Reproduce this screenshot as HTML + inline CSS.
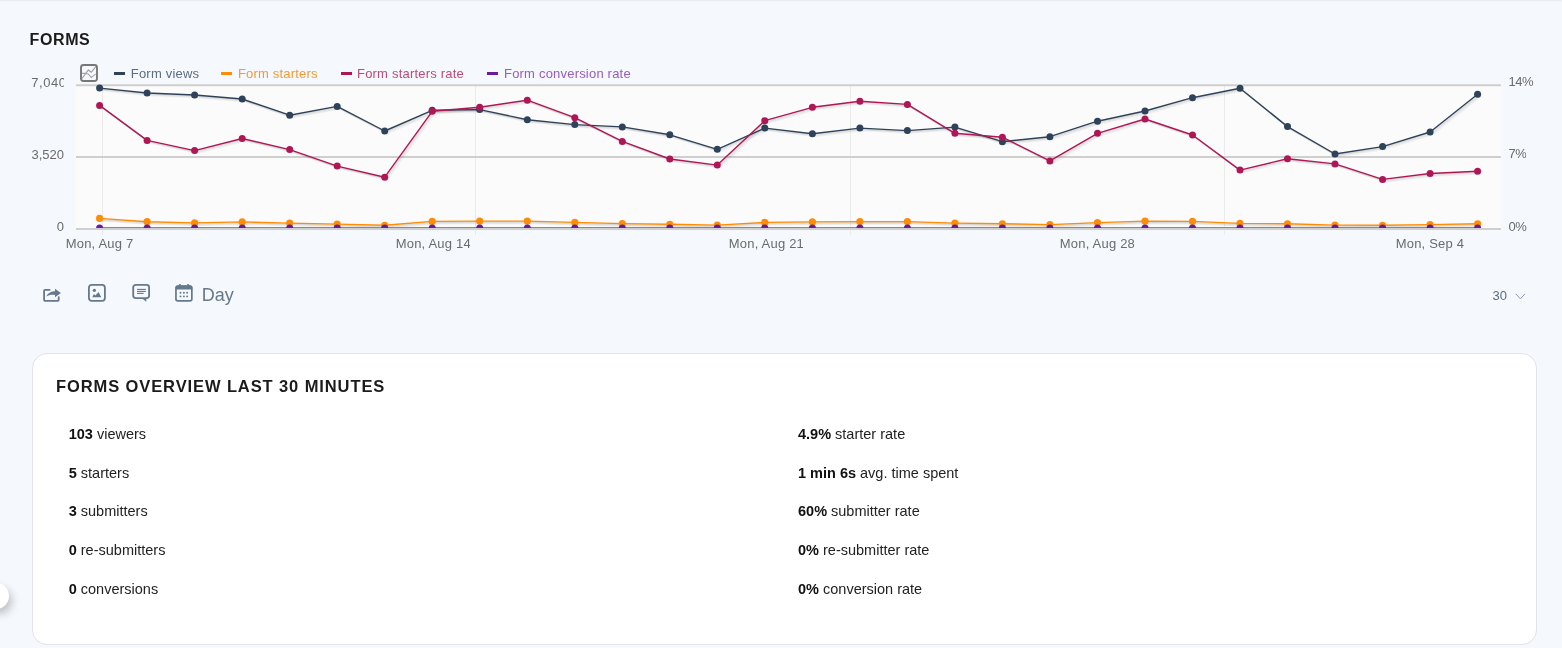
<!DOCTYPE html>
<html><head><meta charset="utf-8"><title>Forms</title>
<style>
*{box-sizing:border-box;margin:0;padding:0}
html,body{width:1562px;height:648px;overflow:hidden}
body{background:#f5f8fc;font-family:"Liberation Sans",Arial,sans-serif;position:relative;color:#212121}
.topshade{position:absolute;left:0;top:0;width:1562px;height:2px;background:linear-gradient(#e6e9ee,#f5f8fc)}
.t{position:absolute;white-space:nowrap;line-height:1}
.h1{left:29.6px;top:31.5px;font-size:16px;font-weight:bold;color:#1b1b1b;letter-spacing:0.6px}
.chart{position:absolute;left:0;top:0}
.lg{font-size:13px;top:67.2px;letter-spacing:0.2px}
.dash{position:absolute;width:11px;height:3px;top:71.7px}
.ax{font-size:13px;color:#6b6b6b}
.rl{left:1508.6px;overflow:hidden;letter-spacing:-0.5px;line-height:14px}
.yl{position:absolute;left:0;width:64px;overflow:hidden;text-align:right;white-space:nowrap;line-height:1;font-size:13px;color:#6b6b6b}
.xl{position:absolute;top:236.2px;overflow:hidden;white-space:nowrap;line-height:16px;font-size:13px;color:#6b6b6b;letter-spacing:0.2px}
.ico{position:absolute}
.day{left:201.8px;top:285.5px;font-size:18px;color:#66778a}
.lim{left:1492.5px;top:289px;font-size:13px;color:#5b6b7c}
.card{position:absolute;left:32px;top:353px;width:1505px;height:292px;background:#fff;border:1px solid #e1e2ea;border-radius:15px}
.h2{left:56px;top:377.8px;font-size:16.5px;font-weight:bold;color:#1b1b1b;letter-spacing:0.9px}
.st{position:absolute;font-size:14.5px;line-height:1;white-space:nowrap;color:#222}
.st b{color:#111}
.knob{position:absolute;left:-17px;top:583px;width:26px;height:26px;border-radius:50%;background:#fff;box-shadow:3px 5px 9px rgba(0,0,0,0.22)}
</style></head><body>
<div class="topshade"></div>
<div class="t h1">FORMS</div>
<svg class="chart" width="1562" height="260" viewBox="0 0 1562 260">
<defs><clipPath id="pc"><rect x="76" y="60" width="1425" height="167.9"/></clipPath></defs>
<rect x="76" y="85" width="1425" height="144" fill="#fbfbfb"/>
<g stroke="#ebebeb" stroke-width="1">
<line x1="102.5" y1="85" x2="102.5" y2="235"/><line x1="475.5" y1="85" x2="475.5" y2="235"/><line x1="850.5" y1="85" x2="850.5" y2="235"/><line x1="1224.5" y1="85" x2="1224.5" y2="235"/>
</g>
<g stroke="#cfcfcf" stroke-width="2">
<line x1="76" y1="85.3" x2="1501" y2="85.3"/><line x1="76" y1="157" x2="1501" y2="157"/><line x1="76" y1="229.1" x2="1501" y2="229.1"/>
</g>
<g clip-path="url(#pc)">
<polyline points="99.6,89.0 147.1,93.9 194.6,95.9 242.2,99.9 289.7,116.1 337.2,107.3 384.7,131.9 432.2,111.2 479.7,110.5 527.3,120.6 574.8,125.5 622.3,127.8 669.8,135.7 717.3,150.2 764.8,129.0 812.4,134.7 859.9,129.0 907.4,131.5 954.9,128.0 1002.4,142.6 1049.9,137.6 1097.5,122.1 1145.0,111.9 1192.5,98.6 1240.0,89.2 1287.5,127.5 1335.0,154.9 1382.6,147.5 1430.1,132.9 1477.6,95.2" transform="translate(0.9,0)" fill="none" stroke="#000" stroke-opacity="0.1" stroke-width="1.4"/><polyline points="99.6,89.9 147.1,94.8 194.6,96.8 242.2,100.8 289.7,117.0 337.2,108.2 384.7,132.8 432.2,112.1 479.7,111.4 527.3,121.5 574.8,126.4 622.3,128.7 669.8,136.6 717.3,151.1 764.8,129.9 812.4,135.6 859.9,129.9 907.4,132.4 954.9,128.9 1002.4,143.5 1049.9,138.5 1097.5,123.0 1145.0,112.8 1192.5,99.5 1240.0,90.1 1287.5,128.4 1335.0,155.8 1382.6,148.4 1430.1,133.8 1477.6,96.1" transform="translate(1.8,0)" fill="none" stroke="#000" stroke-opacity="0.07" stroke-width="1.4"/><polyline points="99.6,90.8 147.1,95.7 194.6,97.7 242.2,101.7 289.7,117.9 337.2,109.1 384.7,133.7 432.2,113.0 479.7,112.3 527.3,122.4 574.8,127.3 622.3,129.6 669.8,137.5 717.3,152.0 764.8,130.8 812.4,136.5 859.9,130.8 907.4,133.3 954.9,129.8 1002.4,144.4 1049.9,139.4 1097.5,123.9 1145.0,113.7 1192.5,100.4 1240.0,91.0 1287.5,129.3 1335.0,156.7 1382.6,149.3 1430.1,134.7 1477.6,97.0" transform="translate(2.7,0)" fill="none" stroke="#000" stroke-opacity="0.04" stroke-width="1.4"/><polyline points="99.6,88.1 147.1,93.0 194.6,95.0 242.2,99.0 289.7,115.2 337.2,106.4 384.7,131.0 432.2,110.3 479.7,109.6 527.3,119.7 574.8,124.6 622.3,126.9 669.8,134.8 717.3,149.3 764.8,128.1 812.4,133.8 859.9,128.1 907.4,130.6 954.9,127.1 1002.4,141.7 1049.9,136.7 1097.5,121.2 1145.0,111.0 1192.5,97.7 1240.0,88.3 1287.5,126.6 1335.0,154.0 1382.6,146.6 1430.1,132.0 1477.6,94.3" fill="none" stroke="#2e4259" stroke-width="1.4" stroke-linejoin="round"/><circle cx="99.6" cy="88.1" r="3.5" fill="#2e4259"/><circle cx="147.1" cy="93.0" r="3.5" fill="#2e4259"/><circle cx="194.6" cy="95.0" r="3.5" fill="#2e4259"/><circle cx="242.2" cy="99.0" r="3.5" fill="#2e4259"/><circle cx="289.7" cy="115.2" r="3.5" fill="#2e4259"/><circle cx="337.2" cy="106.4" r="3.5" fill="#2e4259"/><circle cx="384.7" cy="131.0" r="3.5" fill="#2e4259"/><circle cx="432.2" cy="110.3" r="3.5" fill="#2e4259"/><circle cx="479.7" cy="109.6" r="3.5" fill="#2e4259"/><circle cx="527.3" cy="119.7" r="3.5" fill="#2e4259"/><circle cx="574.8" cy="124.6" r="3.5" fill="#2e4259"/><circle cx="622.3" cy="126.9" r="3.5" fill="#2e4259"/><circle cx="669.8" cy="134.8" r="3.5" fill="#2e4259"/><circle cx="717.3" cy="149.3" r="3.5" fill="#2e4259"/><circle cx="764.8" cy="128.1" r="3.5" fill="#2e4259"/><circle cx="812.4" cy="133.8" r="3.5" fill="#2e4259"/><circle cx="859.9" cy="128.1" r="3.5" fill="#2e4259"/><circle cx="907.4" cy="130.6" r="3.5" fill="#2e4259"/><circle cx="954.9" cy="127.1" r="3.5" fill="#2e4259"/><circle cx="1002.4" cy="141.7" r="3.5" fill="#2e4259"/><circle cx="1049.9" cy="136.7" r="3.5" fill="#2e4259"/><circle cx="1097.5" cy="121.2" r="3.5" fill="#2e4259"/><circle cx="1145.0" cy="111.0" r="3.5" fill="#2e4259"/><circle cx="1192.5" cy="97.7" r="3.5" fill="#2e4259"/><circle cx="1240.0" cy="88.3" r="3.5" fill="#2e4259"/><circle cx="1287.5" cy="126.6" r="3.5" fill="#2e4259"/><circle cx="1335.0" cy="154.0" r="3.5" fill="#2e4259"/><circle cx="1382.6" cy="146.6" r="3.5" fill="#2e4259"/><circle cx="1430.1" cy="132.0" r="3.5" fill="#2e4259"/><circle cx="1477.6" cy="94.3" r="3.5" fill="#2e4259"/>
<polyline points="99.6,219.3 147.1,222.6 194.6,223.8 242.2,222.8 289.7,224.0 337.2,225.0 384.7,226.2 432.2,222.3 479.7,222.0 527.3,222.0 574.8,223.3 622.3,224.5 669.8,225.2 717.3,226.0 764.8,223.3 812.4,222.8 859.9,222.5 907.4,222.5 954.9,224.0 1002.4,224.7 1049.9,225.5 1097.5,223.5 1145.0,222.0 1192.5,222.3 1240.0,224.3 1287.5,224.7 1335.0,226.0 1382.6,226.2 1430.1,225.5 1477.6,224.7" transform="translate(0.9,0)" fill="none" stroke="#000" stroke-opacity="0.1" stroke-width="1.4"/><polyline points="99.6,220.2 147.1,223.5 194.6,224.7 242.2,223.7 289.7,224.9 337.2,225.9 384.7,227.1 432.2,223.2 479.7,222.9 527.3,222.9 574.8,224.2 622.3,225.4 669.8,226.1 717.3,226.9 764.8,224.2 812.4,223.7 859.9,223.4 907.4,223.4 954.9,224.9 1002.4,225.6 1049.9,226.4 1097.5,224.4 1145.0,222.9 1192.5,223.2 1240.0,225.2 1287.5,225.6 1335.0,226.9 1382.6,227.1 1430.1,226.4 1477.6,225.6" transform="translate(1.8,0)" fill="none" stroke="#000" stroke-opacity="0.07" stroke-width="1.4"/><polyline points="99.6,221.1 147.1,224.4 194.6,225.6 242.2,224.6 289.7,225.8 337.2,226.8 384.7,228.0 432.2,224.1 479.7,223.8 527.3,223.8 574.8,225.1 622.3,226.3 669.8,227.0 717.3,227.8 764.8,225.1 812.4,224.6 859.9,224.3 907.4,224.3 954.9,225.8 1002.4,226.5 1049.9,227.3 1097.5,225.3 1145.0,223.8 1192.5,224.1 1240.0,226.1 1287.5,226.5 1335.0,227.8 1382.6,228.0 1430.1,227.3 1477.6,226.5" transform="translate(2.7,0)" fill="none" stroke="#000" stroke-opacity="0.04" stroke-width="1.4"/><polyline points="99.6,218.4 147.1,221.7 194.6,222.9 242.2,221.9 289.7,223.1 337.2,224.1 384.7,225.3 432.2,221.4 479.7,221.1 527.3,221.1 574.8,222.4 622.3,223.6 669.8,224.3 717.3,225.1 764.8,222.4 812.4,221.9 859.9,221.6 907.4,221.6 954.9,223.1 1002.4,223.8 1049.9,224.6 1097.5,222.6 1145.0,221.1 1192.5,221.4 1240.0,223.4 1287.5,223.8 1335.0,225.1 1382.6,225.3 1430.1,224.6 1477.6,223.8" fill="none" stroke="#fd8c06" stroke-width="1.4" stroke-linejoin="round"/><circle cx="99.6" cy="218.4" r="3.6" fill="#fd8c06"/><circle cx="147.1" cy="221.7" r="3.6" fill="#fd8c06"/><circle cx="194.6" cy="222.9" r="3.6" fill="#fd8c06"/><circle cx="242.2" cy="221.9" r="3.6" fill="#fd8c06"/><circle cx="289.7" cy="223.1" r="3.6" fill="#fd8c06"/><circle cx="337.2" cy="224.1" r="3.6" fill="#fd8c06"/><circle cx="384.7" cy="225.3" r="3.6" fill="#fd8c06"/><circle cx="432.2" cy="221.4" r="3.6" fill="#fd8c06"/><circle cx="479.7" cy="221.1" r="3.6" fill="#fd8c06"/><circle cx="527.3" cy="221.1" r="3.6" fill="#fd8c06"/><circle cx="574.8" cy="222.4" r="3.6" fill="#fd8c06"/><circle cx="622.3" cy="223.6" r="3.6" fill="#fd8c06"/><circle cx="669.8" cy="224.3" r="3.6" fill="#fd8c06"/><circle cx="717.3" cy="225.1" r="3.6" fill="#fd8c06"/><circle cx="764.8" cy="222.4" r="3.6" fill="#fd8c06"/><circle cx="812.4" cy="221.9" r="3.6" fill="#fd8c06"/><circle cx="859.9" cy="221.6" r="3.6" fill="#fd8c06"/><circle cx="907.4" cy="221.6" r="3.6" fill="#fd8c06"/><circle cx="954.9" cy="223.1" r="3.6" fill="#fd8c06"/><circle cx="1002.4" cy="223.8" r="3.6" fill="#fd8c06"/><circle cx="1049.9" cy="224.6" r="3.6" fill="#fd8c06"/><circle cx="1097.5" cy="222.6" r="3.6" fill="#fd8c06"/><circle cx="1145.0" cy="221.1" r="3.6" fill="#fd8c06"/><circle cx="1192.5" cy="221.4" r="3.6" fill="#fd8c06"/><circle cx="1240.0" cy="223.4" r="3.6" fill="#fd8c06"/><circle cx="1287.5" cy="223.8" r="3.6" fill="#fd8c06"/><circle cx="1335.0" cy="225.1" r="3.6" fill="#fd8c06"/><circle cx="1382.6" cy="225.3" r="3.6" fill="#fd8c06"/><circle cx="1430.1" cy="224.6" r="3.6" fill="#fd8c06"/><circle cx="1477.6" cy="223.8" r="3.6" fill="#fd8c06"/>
<polyline points="99.6,106.3 147.1,141.3 194.6,151.5 242.2,139.4 289.7,150.5 337.2,167.0 384.7,178.1 432.2,112.2 479.7,108.2 527.3,101.1 574.8,118.6 622.3,142.3 669.8,159.9 717.3,166.0 764.8,121.6 812.4,108.2 859.9,102.1 907.4,105.3 954.9,134.2 1002.4,138.1 1049.9,161.8 1097.5,134.2 1145.0,119.9 1192.5,135.9 1240.0,171.0 1287.5,159.6 1335.0,164.8 1382.6,180.3 1430.1,174.4 1477.6,172.2" transform="translate(0.9,0)" fill="none" stroke="#000" stroke-opacity="0.1" stroke-width="1.4"/><polyline points="99.6,107.2 147.1,142.2 194.6,152.4 242.2,140.3 289.7,151.4 337.2,167.9 384.7,179.0 432.2,113.1 479.7,109.1 527.3,102.0 574.8,119.5 622.3,143.2 669.8,160.8 717.3,166.9 764.8,122.5 812.4,109.1 859.9,103.0 907.4,106.2 954.9,135.1 1002.4,139.0 1049.9,162.7 1097.5,135.1 1145.0,120.8 1192.5,136.8 1240.0,171.9 1287.5,160.5 1335.0,165.7 1382.6,181.2 1430.1,175.3 1477.6,173.1" transform="translate(1.8,0)" fill="none" stroke="#000" stroke-opacity="0.07" stroke-width="1.4"/><polyline points="99.6,108.1 147.1,143.1 194.6,153.3 242.2,141.2 289.7,152.3 337.2,168.8 384.7,179.9 432.2,114.0 479.7,110.0 527.3,102.9 574.8,120.4 622.3,144.1 669.8,161.7 717.3,167.8 764.8,123.4 812.4,110.0 859.9,103.9 907.4,107.1 954.9,136.0 1002.4,139.9 1049.9,163.6 1097.5,136.0 1145.0,121.7 1192.5,137.7 1240.0,172.8 1287.5,161.4 1335.0,166.6 1382.6,182.1 1430.1,176.2 1477.6,174.0" transform="translate(2.7,0)" fill="none" stroke="#000" stroke-opacity="0.04" stroke-width="1.4"/><polyline points="99.6,105.4 147.1,140.4 194.6,150.6 242.2,138.5 289.7,149.6 337.2,166.1 384.7,177.2 432.2,111.3 479.7,107.3 527.3,100.2 574.8,117.7 622.3,141.4 669.8,159.0 717.3,165.1 764.8,120.7 812.4,107.3 859.9,101.2 907.4,104.4 954.9,133.3 1002.4,137.2 1049.9,160.9 1097.5,133.3 1145.0,119.0 1192.5,135.0 1240.0,170.1 1287.5,158.7 1335.0,163.9 1382.6,179.4 1430.1,173.5 1477.6,171.3" fill="none" stroke="#ae1656" stroke-width="1.4" stroke-linejoin="round"/><circle cx="99.6" cy="105.4" r="3.5" fill="#ae1656"/><circle cx="147.1" cy="140.4" r="3.5" fill="#ae1656"/><circle cx="194.6" cy="150.6" r="3.5" fill="#ae1656"/><circle cx="242.2" cy="138.5" r="3.5" fill="#ae1656"/><circle cx="289.7" cy="149.6" r="3.5" fill="#ae1656"/><circle cx="337.2" cy="166.1" r="3.5" fill="#ae1656"/><circle cx="384.7" cy="177.2" r="3.5" fill="#ae1656"/><circle cx="432.2" cy="111.3" r="3.5" fill="#ae1656"/><circle cx="479.7" cy="107.3" r="3.5" fill="#ae1656"/><circle cx="527.3" cy="100.2" r="3.5" fill="#ae1656"/><circle cx="574.8" cy="117.7" r="3.5" fill="#ae1656"/><circle cx="622.3" cy="141.4" r="3.5" fill="#ae1656"/><circle cx="669.8" cy="159.0" r="3.5" fill="#ae1656"/><circle cx="717.3" cy="165.1" r="3.5" fill="#ae1656"/><circle cx="764.8" cy="120.7" r="3.5" fill="#ae1656"/><circle cx="812.4" cy="107.3" r="3.5" fill="#ae1656"/><circle cx="859.9" cy="101.2" r="3.5" fill="#ae1656"/><circle cx="907.4" cy="104.4" r="3.5" fill="#ae1656"/><circle cx="954.9" cy="133.3" r="3.5" fill="#ae1656"/><circle cx="1002.4" cy="137.2" r="3.5" fill="#ae1656"/><circle cx="1049.9" cy="160.9" r="3.5" fill="#ae1656"/><circle cx="1097.5" cy="133.3" r="3.5" fill="#ae1656"/><circle cx="1145.0" cy="119.0" r="3.5" fill="#ae1656"/><circle cx="1192.5" cy="135.0" r="3.5" fill="#ae1656"/><circle cx="1240.0" cy="170.1" r="3.5" fill="#ae1656"/><circle cx="1287.5" cy="158.7" r="3.5" fill="#ae1656"/><circle cx="1335.0" cy="163.9" r="3.5" fill="#ae1656"/><circle cx="1382.6" cy="179.4" r="3.5" fill="#ae1656"/><circle cx="1430.1" cy="173.5" r="3.5" fill="#ae1656"/><circle cx="1477.6" cy="171.3" r="3.5" fill="#ae1656"/>
<polyline points="99.6,227.5 147.1,227.5 194.6,227.5 242.2,227.5 289.7,227.5 337.2,227.5 384.7,227.5 432.2,227.5 479.7,227.5 527.3,227.5 574.8,227.5 622.3,227.5 669.8,227.5 717.3,227.5 764.8,227.5 812.4,227.5 859.9,227.5 907.4,227.5 954.9,227.5 1002.4,227.5 1049.9,227.5 1097.5,227.5 1145.0,227.5 1192.5,227.5 1240.0,227.5 1287.5,227.5 1335.0,227.5 1382.6,227.5 1430.1,227.5 1477.6,227.5" fill="none" stroke="#a56cc9" stroke-width="1.2"/>
<circle cx="99.6" cy="228" r="3.5" fill="#6a1b9a"/><circle cx="147.1" cy="228" r="3.5" fill="#6a1b9a"/><circle cx="194.6" cy="228" r="3.5" fill="#6a1b9a"/><circle cx="242.2" cy="228" r="3.5" fill="#6a1b9a"/><circle cx="289.7" cy="228" r="3.5" fill="#6a1b9a"/><circle cx="337.2" cy="228" r="3.5" fill="#6a1b9a"/><circle cx="384.7" cy="228" r="3.5" fill="#6a1b9a"/><circle cx="432.2" cy="228" r="3.5" fill="#6a1b9a"/><circle cx="479.7" cy="228" r="3.5" fill="#6a1b9a"/><circle cx="527.3" cy="228" r="3.5" fill="#6a1b9a"/><circle cx="574.8" cy="228" r="3.5" fill="#6a1b9a"/><circle cx="622.3" cy="228" r="3.5" fill="#6a1b9a"/><circle cx="669.8" cy="228" r="3.5" fill="#6a1b9a"/><circle cx="717.3" cy="228" r="3.5" fill="#6a1b9a"/><circle cx="764.8" cy="228" r="3.5" fill="#6a1b9a"/><circle cx="812.4" cy="228" r="3.5" fill="#6a1b9a"/><circle cx="859.9" cy="228" r="3.5" fill="#6a1b9a"/><circle cx="907.4" cy="228" r="3.5" fill="#6a1b9a"/><circle cx="954.9" cy="228" r="3.5" fill="#6a1b9a"/><circle cx="1002.4" cy="228" r="3.5" fill="#6a1b9a"/><circle cx="1049.9" cy="228" r="3.5" fill="#6a1b9a"/><circle cx="1097.5" cy="228" r="3.5" fill="#6a1b9a"/><circle cx="1145.0" cy="228" r="3.5" fill="#6a1b9a"/><circle cx="1192.5" cy="228" r="3.5" fill="#6a1b9a"/><circle cx="1240.0" cy="228" r="3.5" fill="#6a1b9a"/><circle cx="1287.5" cy="228" r="3.5" fill="#6a1b9a"/><circle cx="1335.0" cy="228" r="3.5" fill="#6a1b9a"/><circle cx="1382.6" cy="228" r="3.5" fill="#6a1b9a"/><circle cx="1430.1" cy="228" r="3.5" fill="#6a1b9a"/><circle cx="1477.6" cy="228" r="3.5" fill="#6a1b9a"/>
</g>
</svg>
<svg class="ico" style="left:79px;top:63px" width="20" height="20" viewBox="0 0 20 20">
<rect x="2" y="2" width="16" height="16" rx="2.5" fill="none" stroke="#777" stroke-width="1.9"/>
<polyline points="3,15.5 9.3,7 12.3,9.3 16.9,3.5" fill="none" stroke="#9a9a9a" stroke-width="1.1"/>
<polyline points="3,10.4 6.3,10.4 9.3,10.9 12.3,14.4 16.9,10.9" fill="none" stroke="#a8a8a8" stroke-width="1.1"/>
</svg>
<div class="dash" style="left:114px;background:#2e4259"></div><div class="t lg" style="left:130.8px;color:#5a6d82">Form views</div>
<div class="dash" style="left:221px;background:#fd8c06"></div><div class="t lg" style="left:237.9px;color:#f39a32">Form starters</div>
<div class="dash" style="left:341px;background:#ae1656"></div><div class="t lg" style="left:357px;color:#bf4a7a">Form starters rate</div>
<div class="dash" style="left:487px;background:#6a1b9a"></div><div class="t lg" style="left:504px;color:#9a5cc0">Form conversion rate</div>
<div class="yl" style="top:76px"><span style="margin-right:-2.4px;letter-spacing:0.5px">7,040</span></div>
<div class="yl" style="top:147.7px">3,520</div>
<div class="yl" style="top:220px">0</div>
<div class="t ax rl" style="top:75.4px;width:30px">14%</div>
<div class="t ax rl" style="top:147.4px;width:17.7px">7%</div>
<div class="t ax rl" style="top:219.5px;width:30px">0%</div>
<div class="xl" style="left:65.7px;width:72px">Mon, Aug 7</div>
<div class="xl" style="left:395.7px;width:74px">Mon, Aug 14</div>
<div class="xl" style="left:728.8px;width:74px">Mon, Aug 21</div>
<div class="xl" style="left:1059.8px;width:75.5px">Mon, Aug 28</div>
<div class="xl" style="left:1395.7px;width:74px">Mon, Sep 4</div>
<!-- toolbar icons -->
<svg class="ico" style="left:40px;top:284px" width="24" height="20" viewBox="0 0 24 20">
<path d="M9.6,5.9 H5 a0.9,0.9 0 0 0 -0.9,0.9 V16 a0.9,0.9 0 0 0 0.9,0.9 H17.8 a0.9,0.9 0 0 0 0.9,-0.9 V13.2" fill="none" stroke="#66788b" stroke-width="1.8" stroke-linecap="round"/>
<path d="M6.2,12.6 C7.8,9.2 10.8,7.3 15,7.3 V4.8 L20.9,9.1 L15,13.3 V10.9 C11.5,10.5 8.6,10.9 6.2,12.6 Z" fill="#66788b"/>
</svg>
<svg class="ico" style="left:86px;top:283px" width="22" height="21" viewBox="0 0 22 21">
<rect x="2.9" y="1.9" width="16" height="16" rx="2.8" fill="none" stroke="#66788b" stroke-width="1.8"/>
<circle cx="8.4" cy="7.3" r="1.6" fill="#66788b"/>
<path d="M6.3,14.2 L7.9,11 L9.4,12.4 L12.5,9.1 L15.3,14.2 Z" fill="#66788b"/>
</svg>
<svg class="ico" style="left:130px;top:283px" width="22" height="21" viewBox="0 0 22 21">
<rect x="3.2" y="1.9" width="15.9" height="13.2" rx="2.5" fill="none" stroke="#66788b" stroke-width="1.8"/>
<path d="M11.5,15 L16.3,15 L16.3,18.8 Z" fill="#66788b"/>
<line x1="7" y1="6.4" x2="15.8" y2="6.4" stroke="#66788b" stroke-width="1.1"/>
<line x1="7" y1="8.4" x2="15.8" y2="8.4" stroke="#66788b" stroke-width="1.1"/>
<line x1="7" y1="10.4" x2="13.6" y2="10.4" stroke="#66788b" stroke-width="1.1"/>
</svg>
<svg class="ico" style="left:173px;top:283px" width="22" height="21" viewBox="0 0 22 21">
<path d="M4.6,2.5 H17.4 a1.8,1.8 0 0 1 1.8,1.8 V6.5 H2.8 V4.3 a1.8,1.8 0 0 1 1.8,-1.8 Z" fill="#66788b"/>
<rect x="2.95" y="3.2" width="15.9" height="14.75" rx="1.9" fill="none" stroke="#66788b" stroke-width="1.7"/>
<rect x="6" y="1" width="1.8" height="2.5" rx="0.5" fill="#66788b"/><rect x="14.2" y="1" width="1.8" height="2.5" rx="0.5" fill="#66788b"/>
<g fill="#66788b"><circle cx="7.5" cy="9.8" r="0.95"/><circle cx="10.9" cy="9.8" r="0.95"/><circle cx="14.1" cy="9.8" r="0.95"/><circle cx="7.5" cy="13.4" r="0.95"/><circle cx="10.9" cy="13.4" r="0.95"/><circle cx="14.1" cy="13.4" r="0.95"/></g>
</svg>
<div class="t day">Day</div>
<div class="t lim">30</div>
<svg class="ico" style="left:1514px;top:292px" width="12" height="9" viewBox="0 0 12 9"><polyline points="1.9,1.9 6.4,6.9 10.9,1.9" fill="none" stroke="#8d9ab0" stroke-width="1"/></svg>
<div class="card"></div>
<div class="t h2">FORMS OVERVIEW LAST 30 MINUTES</div>
<div class="st" style="left:68.7px;top:426.7px"><b>103</b> viewers</div>
<div class="st" style="left:68.7px;top:465.5px"><b>5</b> starters</div>
<div class="st" style="left:68.7px;top:504.2px"><b>3</b> submitters</div>
<div class="st" style="left:68.7px;top:542.9px"><b>0</b> re-submitters</div>
<div class="st" style="left:68.7px;top:581.6px"><b>0</b> conversions</div>
<div class="st" style="left:798px;top:426.7px"><b>4.9%</b> starter rate</div>
<div class="st" style="left:798px;top:465.5px"><b>1 min 6s</b> avg. time spent</div>
<div class="st" style="left:798px;top:504.2px"><b>60%</b> submitter rate</div>
<div class="st" style="left:798px;top:542.9px"><b>0%</b> re-submitter rate</div>
<div class="st" style="left:798px;top:581.6px"><b>0%</b> conversion rate</div>
<div class="knob"></div>
</body></html>
